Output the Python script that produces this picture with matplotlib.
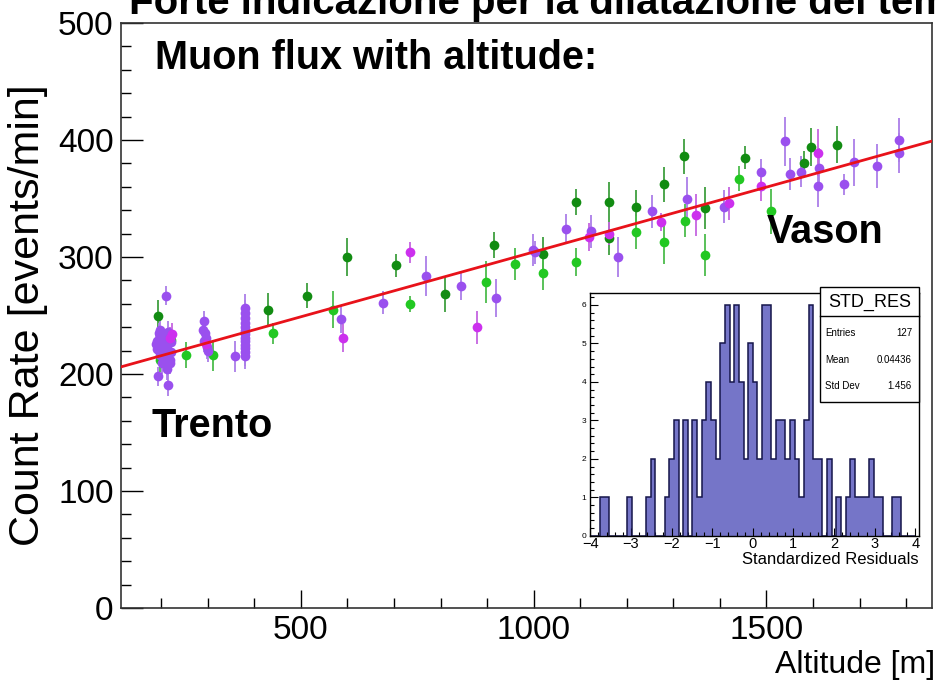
import numpy as np
import matplotlib
matplotlib.use("Agg")
import matplotlib.pyplot as plt
from matplotlib.ticker import MultipleLocator

plt.rcParams['font.family'] = ['Liberation Sans', 'DejaVu Sans']

#--------------------------------------------------------------------------------------
# data: altitude [m], rate [events/min], error
#--------------------------------------------------------------------------------------
dg_alt = [194, 429, 514, 600, 705, 809, 914, 1020, 1090, 1161, 1161, 1219, 1279, 1324,
          1369, 1454, 1580, 1595, 1651]
dg_rate = [250, 255, 267, 300, 293, 268, 310, 303, 347, 347, 316, 343, 362, 386,
           342, 385, 380, 394, 396]
dg_err = [13, 14, 11, 16, 10, 15, 11, 14, 11, 17, 14, 14, 15, 15, 18, 10, 11, 16, 16]

bg_alt = [198, 222, 205, 253, 311, 440, 570, 735, 898, 959, 1020, 1090, 1219, 1279,
          1325, 1369, 1441, 1509]
bg_rate = [212, 229, 222, 216, 216, 235, 255, 260, 279, 294, 286, 296, 321, 313,
           331, 302, 367, 339]
bg_err = [10, 9, 12, 11, 13, 9, 16, 7, 18, 14, 14, 12, 14, 19, 14, 18, 11, 19]

pu_alt = [210, 194, 215, 190, 197, 205, 192, 212, 219, 218, 200, 197, 214, 222, 206,
          188, 216, 203, 209, 221, 195, 213, 201,
          293, 294, 298, 291, 296, 300, 289,
          359, 380, 380, 380, 380, 380, 380, 380, 380, 380, 380, 380, 380, 380,
          586, 677, 769, 845, 920, 998, 1003, 1070, 1124, 1181, 1254, 1330, 1408, 1489,
          1539, 1551, 1575, 1610, 1613, 1666, 1689, 1738, 1784, 1784]
pu_rate = [267, 198, 191, 228, 238, 231, 221, 225, 212, 209, 233, 216, 236, 219, 213,
           226, 229, 224, 218, 227, 235, 204, 209,
           245, 235, 223, 228, 231, 220, 238,
           215, 256, 252, 248, 244, 240, 237, 234, 231, 228, 225, 222, 219, 215,
           247, 261, 284, 275, 265, 306, 304, 324, 322, 300, 339, 350, 343, 373,
           399, 371, 373, 361, 376, 362, 381, 378, 400, 389]
pu_err = [8, 8, 10, 9, 10, 9, 9, 9, 10, 9, 8, 9, 9, 9, 10, 9, 8, 9, 10, 9, 9, 9, 9,
          9, 9, 10, 9, 9, 10, 9,
          13, 12, 11, 12, 10, 11, 12, 10, 11, 12, 10, 11, 12, 11,
          12, 10, 17, 12, 16, 14, 10, 13, 14, 17, 14, 18, 14, 11,
          21, 14, 13, 18, 17, 9, 20, 19, 19, 17]

ma_alt = [223, 218, 297, 590, 735, 878, 1120, 1161, 1274, 1348, 1420, 1489, 1610]
ma_rate = [234, 231, 226, 231, 304, 240, 317, 320, 330, 336, 346, 361, 389]
ma_err = [10, 9, 9, 12, 9, 14, 12, 10, 8, 18, 14, 13, 20]

# linear fit drawn in red
fit_p0 = 193.5
fit_p1 = 0.1108

# standardized residuals histogram (70 bins, -4..4)
res_edges = np.linspace(-4, 4, 71)
res_counts = [0, 0, 1, 1, 0, 0, 0, 0, 1, 0, 0, 0, 1, 2, 0, 0, 1, 2, 3, 0,
              3, 0, 3, 1, 3, 4, 3, 2, 5, 6, 4, 6, 4, 2, 5, 4, 2, 6, 6, 2,
              3, 3, 2, 3, 2, 1, 3, 6, 2, 2, 0, 2, 0, 1, 0, 1, 2, 1, 1, 1,
              2, 1, 1, 0, 0, 1, 1, 0, 0, 0]
stat_labels = ["Entries", "Mean", "Std Dev"]
stat_values = ["127", "0.04436", "1.456"]

#--------------------------------------------------------------------------------------
# main plot
#--------------------------------------------------------------------------------------
fig = plt.figure(figsize=(9.39, 6.83), dpi=100)
ax = fig.add_axes([0.1285, 0.1098, 0.8637, 0.8565])

series = [
    (dg_alt, dg_rate, dg_err, '#128c12', '#3f9f3f'),
    (bg_alt, bg_rate, bg_err, '#22c822', '#4cbc4c'),
    (pu_alt, pu_rate, pu_err, '#9a50ee', '#ab7ee8'),
    (ma_alt, ma_rate, ma_err, '#cc30ee', '#c565e0'),
]
for x, y, e, c, ec in series:
    ax.errorbar(x, y, yerr=e, fmt='o', ms=7, mew=0, color=c, ecolor=ec,
                elinewidth=1.3, capsize=3, capthick=1.2, zorder=2)

xfit = np.linspace(113, 1855, 200)
ax.plot(xfit, fit_p0 + fit_p1 * xfit, color='#e8121a', lw=2, zorder=3)

ax.set_xlim(113, 1855)
ax.set_ylim(0, 500)
ax.xaxis.set_major_locator(MultipleLocator(500))
ax.xaxis.set_minor_locator(MultipleLocator(100))
ax.yaxis.set_major_locator(MultipleLocator(100))
ax.yaxis.set_minor_locator(MultipleLocator(20))
ax.tick_params(axis='both', which='both', direction='in', top=False, right=False,
               labelsize=24, width=1)
ax.tick_params(axis='x', which='major', length=13, pad=5)
ax.tick_params(axis='x', which='minor', length=7)
ax.tick_params(axis='y', which='major', length=16, pad=5)
ax.tick_params(axis='y', which='minor', length=7)
for sp in ax.spines.values():
    sp.set_linewidth(1.2)
    sp.set_color('#333333')

ax.set_ylabel("Count Rate [events/min]", fontsize=31)
ax.yaxis.set_label_coords(-0.0896, 0.5)
ax.set_xlabel("Altitude [m]", fontsize=23, ha='right', va='baseline')
ax.xaxis.set_label_coords(1.004, -0.111)

ax.text(0.0423, 0.921, "Muon flux with altitude:", transform=ax.transAxes,
        fontsize=28.5, fontweight='bold', va='baseline')
ax.text(0.0386, 0.293, "Trento", transform=ax.transAxes,
        fontsize=28.5, fontweight='bold', va='baseline')
ax.text(0.797, 0.624, "Vason", transform=ax.transAxes,
        fontsize=28.5, fontweight='bold', va='baseline')
fig.text(0.1374, 0.9795, "Forte indicazione per la dilatazione del tempo",
         fontsize=29, fontweight='bold', va='baseline')

#--------------------------------------------------------------------------------------
# inset histogram of residuals
#--------------------------------------------------------------------------------------
axi = fig.add_axes([0.6287, 0.2155, 0.3495, 0.3549])
axi.set_facecolor('white')
axi.stairs(res_counts, res_edges, fill=True, color='#7575c8', zorder=1)
axi.stairs(res_counts, res_edges, color='#15154a', lw=1.1, baseline=0, zorder=2)
axi.set_xlim(-4, 4.08)
axi.set_ylim(0, 6.3)
axi.xaxis.set_major_locator(MultipleLocator(1))
axi.xaxis.set_minor_locator(MultipleLocator(0.2))
axi.yaxis.set_major_locator(MultipleLocator(1))
axi.yaxis.set_minor_locator(MultipleLocator(0.2))
axi.tick_params(axis='both', which='both', direction='in', top=False, right=False, width=0.8)
axi.tick_params(axis='x', which='major', length=6, labelsize=10.5, pad=1)
axi.tick_params(axis='x', which='minor', length=3)
axi.tick_params(axis='y', which='major', length=6, labelsize=6, pad=3)
axi.tick_params(axis='y', which='minor', length=3)
for sp in axi.spines.values():
    sp.set_linewidth(1)
axi.set_xlabel("Standardized Residuals", fontsize=12, ha='right', va='baseline')
axi.xaxis.set_label_coords(1.0, -0.118)

# stats box
bx0, bx1 = 0.70, 1.0
axi.add_patch(plt.Rectangle((bx0, 0.55), bx1 - bx0, 0.475, transform=axi.transAxes,
                            facecolor='white', edgecolor='black', lw=1, zorder=5,
                            clip_on=False))
axi.plot([bx0, bx1], [0.905, 0.905], transform=axi.transAxes, color='black', lw=1,
         zorder=6, clip_on=False)
axi.text((bx0 + bx1) / 2, 0.962, "STD_RES", transform=axi.transAxes, fontsize=13,
         ha='center', va='center', zorder=7)
for i, (lab, val) in enumerate(zip(stat_labels, stat_values)):
    yy = 0.836 - i * 0.109
    axi.text(bx0 + 0.015, yy, lab, transform=axi.transAxes, fontsize=7,
             ha='left', va='center', zorder=7)
    axi.text(bx1 - 0.02, yy, val, transform=axi.transAxes, fontsize=7,
             ha='right', va='center', zorder=7)

fig.savefig("out.png", dpi=100)
